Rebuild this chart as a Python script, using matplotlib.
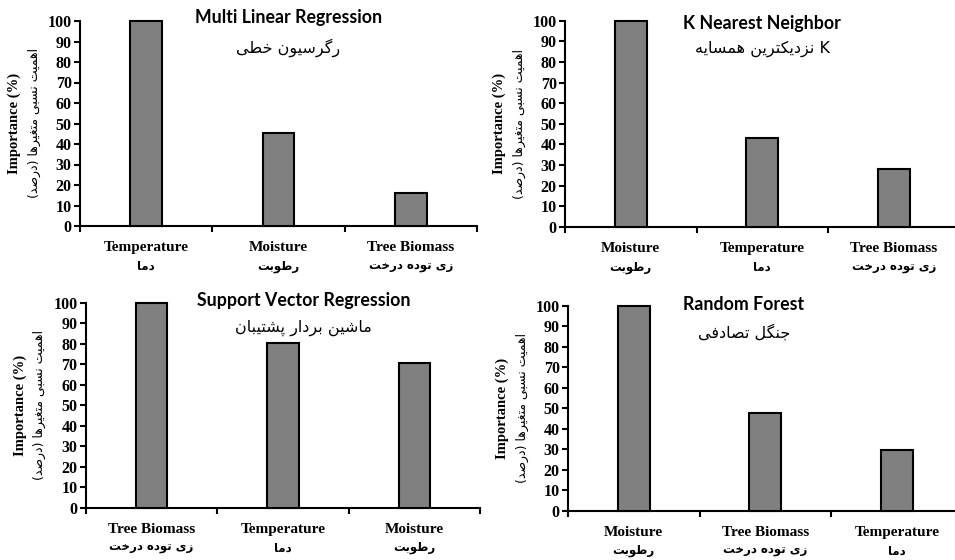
import numpy as np
import matplotlib
matplotlib.use('Agg')
import matplotlib.pyplot as plt

# relative importance (%) of each variable, left to right in each panel
mlr_vars = ['Temperature', 'Moisture', 'Tree Biomass']
mlr_vals = [100, 45.5, 16]
knn_vars = ['Moisture', 'Temperature', 'Tree Biomass']
knn_vals = [100, 43, 28]
svr_vars = ['Tree Biomass', 'Temperature', 'Moisture']
svr_vals = [100, 80.5, 70.5]
rf_vars = ['Moisture', 'Tree Biomass', 'Temperature']
rf_vals = [100, 47.5, 29.5]

fa_names = {'Temperature': 'دما', 'Moisture': 'رطوبت', 'Tree Biomass': 'زی توده درخت'}
titles_en = ['Multi Linear Regression', 'K Nearest Neighbor',
             'Support Vector Regression', 'Random Forest']
titles_fa = ['رگرسیون خطی', 'K نزدیکترین همسایه', 'ماشین بردار پشتیبان', 'جنگل تصادفی']
ylabel_en = 'Importance (%)'
ylabel_fa = 'اهمیت نسبی متغیرها (درصد)'

# arabic presentation forms: (isolated, final[, initial, medial])
FORMS = {
    'ا': (0xFE8D, 0xFE8E), 'د': (0xFEA9, 0xFEAA), 'ر': (0xFEAD, 0xFEAE),
    'ز': (0xFEAF, 0xFEB0), 'و': (0xFEED, 0xFEEE),
    'ب': (0xFE8F, 0xFE90, 0xFE91, 0xFE92), 'ت': (0xFE95, 0xFE96, 0xFE97, 0xFE98),
    'ج': (0xFE9D, 0xFE9E, 0xFE9F, 0xFEA0), 'خ': (0xFEA5, 0xFEA6, 0xFEA7, 0xFEA8),
    'س': (0xFEB1, 0xFEB2, 0xFEB3, 0xFEB4), 'ش': (0xFEB5, 0xFEB6, 0xFEB7, 0xFEB8),
    'ص': (0xFEB9, 0xFEBA, 0xFEBB, 0xFEBC), 'ط': (0xFEC1, 0xFEC2, 0xFEC3, 0xFEC4),
    'غ': (0xFECD, 0xFECE, 0xFECF, 0xFED0), 'ف': (0xFED1, 0xFED2, 0xFED3, 0xFED4),
    'ل': (0xFEDD, 0xFEDE, 0xFEDF, 0xFEE0), 'م': (0xFEE1, 0xFEE2, 0xFEE3, 0xFEE4),
    'ن': (0xFEE5, 0xFEE6, 0xFEE7, 0xFEE8), 'ه': (0xFEE9, 0xFEEA, 0xFEEB, 0xFEEC),
    'پ': (0xFB56, 0xFB57, 0xFB58, 0xFB59), 'ک': (0xFB8E, 0xFB8F, 0xFB90, 0xFB91),
    'گ': (0xFB92, 0xFB93, 0xFB94, 0xFB95), 'ی': (0xFBFC, 0xFBFD, 0xFBFE, 0xFBFF),
}


def fa(text):
    # join letters and lay them out right to left
    out = []
    for i, c in enumerate(text):
        if c not in FORMS:
            out.append({'(': ')', ')': '('}.get(c, c))
            continue
        f = FORMS[c]
        prev = text[i - 1] if i > 0 else ''
        nxt = text[i + 1] if i + 1 < len(text) else ''
        jp = prev in FORMS and len(FORMS[prev]) == 4
        jn = len(f) == 4 and nxt in FORMS
        if jp and jn:
            code = f[3]
        elif jp:
            code = f[1]
        elif jn:
            code = f[2]
        else:
            code = f[0]
        out.append(chr(code))
    return ''.join(reversed(out))


SERIF = 'Liberation Serif'
FAFONT = 'DejaVu Sans'
W, H = 955, 560

fig = plt.figure(figsize=(W / 100, H / 100), dpi=100)


def panel(px, names, vals, title, subtitle, tx, ty1, ty2):
    l, r, b, t = px
    ax = fig.add_axes([l / W, 1 - b / H, (r - l) / W, (b - t) / H])
    x = np.arange(len(vals)) + 0.5
    ax.bar(x, vals, width=0.24, color='#808080', edgecolor='black',
           linewidth=1.5, clip_on=False, zorder=3)
    ax.set_xlim(0, 3)
    ax.set_ylim(0, 100)
    ax.set_yticks(range(0, 101, 10))
    ax.set_xticks([0, 1, 2, 3])
    ax.set_xticklabels([])
    for s in ['top', 'right']:
        ax.spines[s].set_visible(False)
    for s in ['left', 'bottom']:
        ax.spines[s].set_linewidth(1.5)
    ax.tick_params(axis='both', direction='out', length=4, width=1.5)
    ax.tick_params(axis='y', pad=2)
    for lab in ax.get_yticklabels():
        lab.set_fontfamily(SERIF)
        lab.set_fontweight('bold')
        lab.set_fontsize(11.5)
    for xi, n in zip(x, names):
        ax.annotate(n, xy=(xi, 0), xycoords=('data', 'axes fraction'),
                    xytext=(0, -15.5), textcoords='offset points', ha='center',
                    va='center', family=SERIF, weight='bold', fontsize=11)
        ax.annotate(fa(fa_names[n]), xy=(xi, 0), xycoords=('data', 'axes fraction'),
                    xytext=(0, -29), textcoords='offset points', ha='center',
                    va='center', family=FAFONT, weight='bold', fontsize=8.5)
    ax.annotate(ylabel_en, xy=(0, 0.5), xycoords='axes fraction', xytext=(-47, 0),
                textcoords='offset points', rotation=90, ha='center', va='center',
                family=SERIF, weight='bold', fontsize=10.5)
    ax.annotate(fa(ylabel_fa), xy=(0, 0.5), xycoords='axes fraction', xytext=(-33, 0),
                textcoords='offset points', rotation=90, ha='center', va='center',
                family=FAFONT, fontsize=9)
    ax.text(tx, ty1, title, transform=ax.transAxes, ha='center', va='center',
            family='Lato', weight='bold', fontsize=12.8)
    ax.text(tx, ty2, fa(subtitle), transform=ax.transAxes, ha='center', va='center',
            family=FAFONT, fontsize=11.5)
    return ax


panel((80, 477, 226, 21), mlr_vars, mlr_vals, titles_en[0], titles_fa[0], 0.525, 1.015, 0.868)
panel((565, 959.5, 227, 20.7), knn_vars, knn_vals, titles_en[1], titles_fa[1], 0.5, 0.987, 0.866)
panel((85.7, 480, 507.7, 302.7), svr_vars, svr_vals, titles_en[2], titles_fa[2], 0.553, 1.01, 0.875)
panel((568, 962.5, 510.7, 305.7), rf_vars, rf_vals, titles_en[3], titles_fa[3], 0.446, 1.008, 0.868)

fig.savefig('out.png', dpi=100, facecolor='white')
